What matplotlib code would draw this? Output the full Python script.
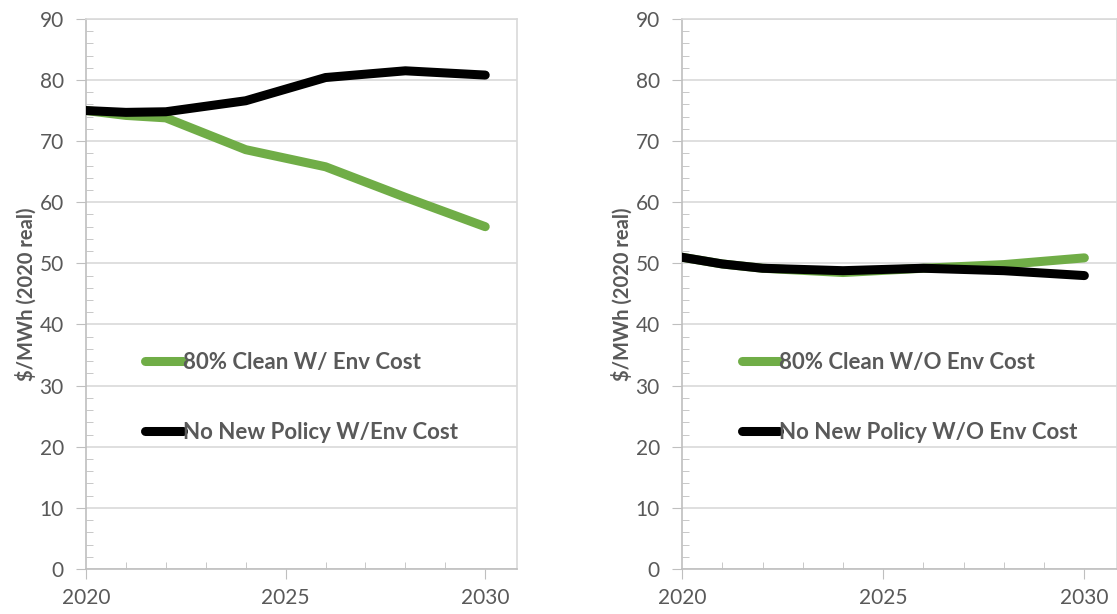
import matplotlib.pyplot as plt
from matplotlib.ticker import MultipleLocator

years = [2020, 2021, 2022, 2024, 2026, 2028, 2030]

# left panel: with environmental cost
clean_env = [75.0, 74.2, 73.8, 68.6, 65.8, 60.8, 56.0]
nopolicy_env = [75.0, 74.7, 74.8, 76.6, 80.4, 81.5, 80.8]

# right panel: without environmental cost
clean_noenv = [51.0, 49.9, 49.2, 48.5, 49.2, 49.8, 50.9]
nopolicy_noenv = [51.0, 49.9, 49.2, 48.8, 49.2, 48.8, 48.0]

left_labels = ['80% Clean W/ Env Cost', 'No New Policy W/Env Cost']
right_labels = ['80% Clean W/O Env Cost', 'No New Policy W/O Env Cost']

GREEN = '#70ad47'
GRAY_TXT = '#595959'

plt.rcParams['font.family'] = ['Lato', 'DejaVu Sans']

fig = plt.figure(figsize=(11.17, 6.14), dpi=100)
ax1 = fig.add_axes([0.077, 0.0733, 0.386, 0.896])
ax2 = fig.add_axes([0.6106, 0.0733, 0.389, 0.896])


def style_panel(ax, green_vals, black_vals, labels):
	ax.plot(years, green_vals, color=GREEN, lw=6.5, solid_capstyle='round', solid_joinstyle='round', label=labels[0], zorder=3)
	ax.plot(years, black_vals, color='black', lw=6.5, solid_capstyle='round', solid_joinstyle='round', label=labels[1], zorder=4)
	ax.set_xlim(2020, 2030.8)
	ax.set_ylim(0, 90)
	ax.xaxis.set_major_locator(MultipleLocator(5))
	ax.xaxis.set_minor_locator(MultipleLocator(1))
	ax.yaxis.set_major_locator(MultipleLocator(10))
	ax.yaxis.set_minor_locator(MultipleLocator(2))
	ax.grid(axis='y', which='major', color='#d9d9d9', lw=1.2)
	ax.set_axisbelow(True)
	for side in ['left', 'bottom']:
		ax.spines[side].set_color('#bfbfbf')
		ax.spines[side].set_linewidth(1.2)
	for side in ['top', 'right']:
		ax.spines[side].set_color('#d9d9d9')
		ax.spines[side].set_linewidth(1.2)
	ax.tick_params(which='major', direction='out', length=7, color='#bfbfbf', labelsize=15, labelcolor=GRAY_TXT)
	ax.tick_params(which='minor', direction='in', length=5, color='#bfbfbf')
	ax.tick_params(axis='y', which='major', pad=9)
	ax.tick_params(axis='x', which='major', pad=7)
	ax.set_ylabel('$/MWh (2020 real)', fontsize=14.5, fontweight='bold', color=GRAY_TXT, labelpad=2)
	leg = ax.legend(loc='upper left', bbox_to_anchor=(0.137, 0.395), frameon=False, fontsize=16,
		handlelength=1.7, handletextpad=0.0, labelspacing=2.2, borderpad=0, borderaxespad=0)
	for t in leg.get_texts():
		t.set_color(GRAY_TXT)
		t.set_fontweight('bold')
	for h in leg.get_lines():
		h.set_linewidth(6.5)


style_panel(ax1, clean_env, nopolicy_env, left_labels)
style_panel(ax2, clean_noenv, nopolicy_noenv, right_labels)

plt.savefig('out.png', dpi=100)
